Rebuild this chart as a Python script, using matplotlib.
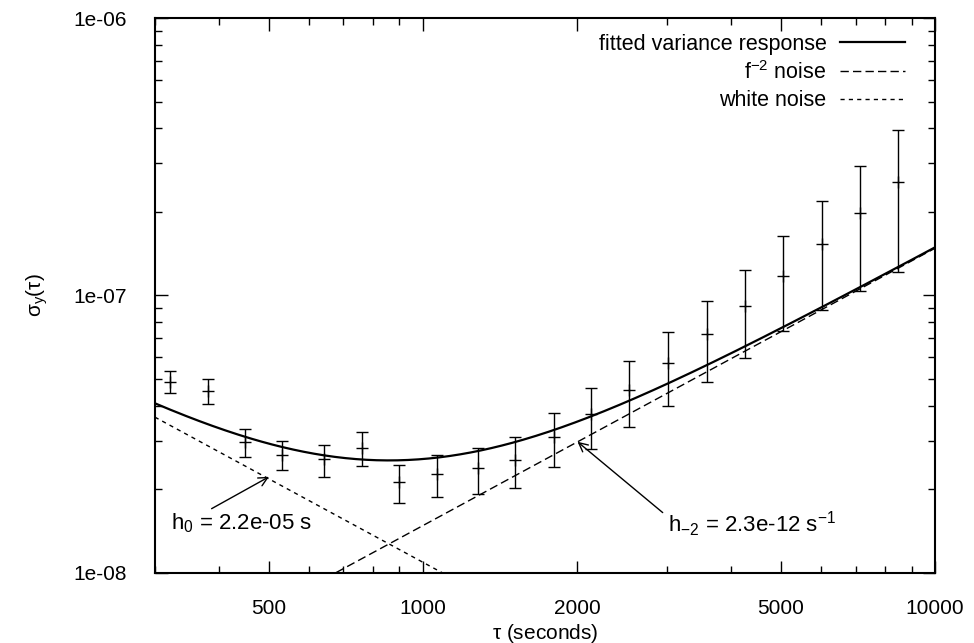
import numpy as np
import matplotlib
matplotlib.use("Agg")
import matplotlib.pyplot as plt
from matplotlib.ticker import FixedLocator, FixedFormatter, LogLocator, NullFormatter

plt.rcParams['font.family'] = ['Liberation Sans', 'DejaVu Sans']
plt.rcParams['mathtext.default'] = 'regular'

# measured Allan deviation points: tau, value, lower and upper error limits
tau = [321, 381, 450, 531, 641, 761, 898, 1065, 1280, 1517,
       1800, 2133, 2530, 3012, 3590, 4266, 5058, 6025, 7145, 8475]
sigma = [4.89e-8, 4.54e-8, 2.96e-8, 2.67e-8, 2.57e-8, 2.81e-8, 2.12e-8, 2.28e-8, 2.38e-8, 2.55e-8,
         3.10e-8, 3.75e-8, 4.58e-8, 5.70e-8, 7.25e-8, 9.16e-8, 1.18e-7, 1.53e-7, 1.98e-7, 2.57e-7]
sigma_lo = [4.45e-8, 4.07e-8, 2.62e-8, 2.35e-8, 2.22e-8, 2.42e-8, 1.78e-8, 1.87e-8, 1.93e-8, 2.02e-8,
            2.40e-8, 2.79e-8, 3.37e-8, 4.01e-8, 4.89e-8, 5.97e-8, 7.46e-8, 8.9e-8, 1.04e-7, 1.21e-7]
sigma_hi = [5.36e-8, 4.99e-8, 3.30e-8, 2.99e-8, 2.89e-8, 3.23e-8, 2.45e-8, 2.65e-8, 2.83e-8, 3.10e-8,
            3.78e-8, 4.64e-8, 5.82e-8, 7.41e-8, 9.55e-8, 1.24e-7, 1.64e-7, 2.19e-7, 2.93e-7, 3.95e-7]

# fitted noise terms
white_coef = 1.093e-5    # white noise ~ white_coef / tau
rw_coef = 1.48e-11       # f^-2 noise ~ rw_coef * tau

xticks = [500, 1000, 2000, 5000, 10000]
xticklabels = ['500', '1000', '2000', '5000', '10000']
yticks = [1e-8, 1e-7, 1e-6]
yticklabels = ['1e-08', '1e-07', '1e-06']

tau = np.array(tau)
sigma = np.array(sigma)
yerr = [sigma - np.array(sigma_lo), np.array(sigma_hi) - sigma]

fig = plt.figure(figsize=(9.74, 6.43), dpi=100)
ax = fig.add_axes([0.159, 0.109, 0.801, 0.863])

t = np.logspace(np.log10(300), 4, 300)
white = white_coef / t
rw = rw_coef * t
fit = white + rw

ax.plot(t, fit, color='black', lw=1.6, label='fitted variance response')
ax.plot(t, rw, color='black', lw=1.0, dashes=(6, 3), label='f$^{-2}$ noise')
ax.plot(t, white, color='black', lw=1.0, dashes=(3, 3), label='white noise')
ax.errorbar(tau, sigma, yerr=yerr, fmt='+', color='black', ms=9, mew=1.0,
            elinewidth=1.0, capsize=4, capthick=1.0)

ax.set_xscale('log')
ax.set_yscale('log')
ax.set_xlim(300, 10000)
ax.set_ylim(1e-8, 1e-6)

ax.xaxis.set_major_locator(FixedLocator(xticks))
ax.xaxis.set_major_formatter(FixedFormatter(xticklabels))
ax.xaxis.set_minor_locator(LogLocator(base=10, subs=np.arange(2, 10)))
ax.xaxis.set_minor_formatter(NullFormatter())
ax.yaxis.set_major_locator(FixedLocator(yticks))
ax.yaxis.set_major_formatter(FixedFormatter(yticklabels))
ax.yaxis.set_minor_locator(LogLocator(base=10, subs=np.arange(2, 10)))
ax.yaxis.set_minor_formatter(NullFormatter())
ax.tick_params(which='both', direction='in', top=True, right=True, labelsize=15, width=1.0)
ax.tick_params(which='major', length=9)
ax.tick_params(which='minor', length=5)
ax.tick_params(axis='x', which='major', pad=18.5)
ax.tick_params(axis='y', which='major', pad=20)
for s in ax.spines.values():
    s.set_linewidth(1.5)

ax.set_xlabel(r'$\tau$ (seconds)', fontsize=15, labelpad=3)
ax.set_ylabel(r'$\sigma_y(\tau)$', fontsize=15, labelpad=17)

ax.annotate(r'h$_0$ = 2.2e-05 s', xy=(501, 2.22e-8), xytext=(323, 1.51e-8),
            fontsize=16, va='center', ha='left',
            arrowprops=dict(arrowstyle='->', color='black', lw=1.0,
                            shrinkA=0, shrinkB=0, relpos=(0.25, 1.0)))
ax.annotate(r'h$_{-2}$ = 2.3e-12 s$^{-1}$', xy=(2005, 2.97e-8), xytext=(3006, 1.50e-8),
            fontsize=16, va='center', ha='left',
            arrowprops=dict(arrowstyle='->', color='black', lw=1.0,
                            shrinkA=2, shrinkB=0, relpos=(0.0, 0.75)))

leg = ax.legend(loc='upper right', bbox_to_anchor=(0.9615, 0.972), frameon=False,
                fontsize=15.5, markerfirst=False, handlelength=3.0, labelspacing=0.3,
                borderaxespad=0.0, borderpad=0.0, handletextpad=0.65)
for txt in leg.get_texts():
    txt.set_ha('right')
leg._legend_box.align = 'right'

fig.savefig('out.png', dpi=100)
